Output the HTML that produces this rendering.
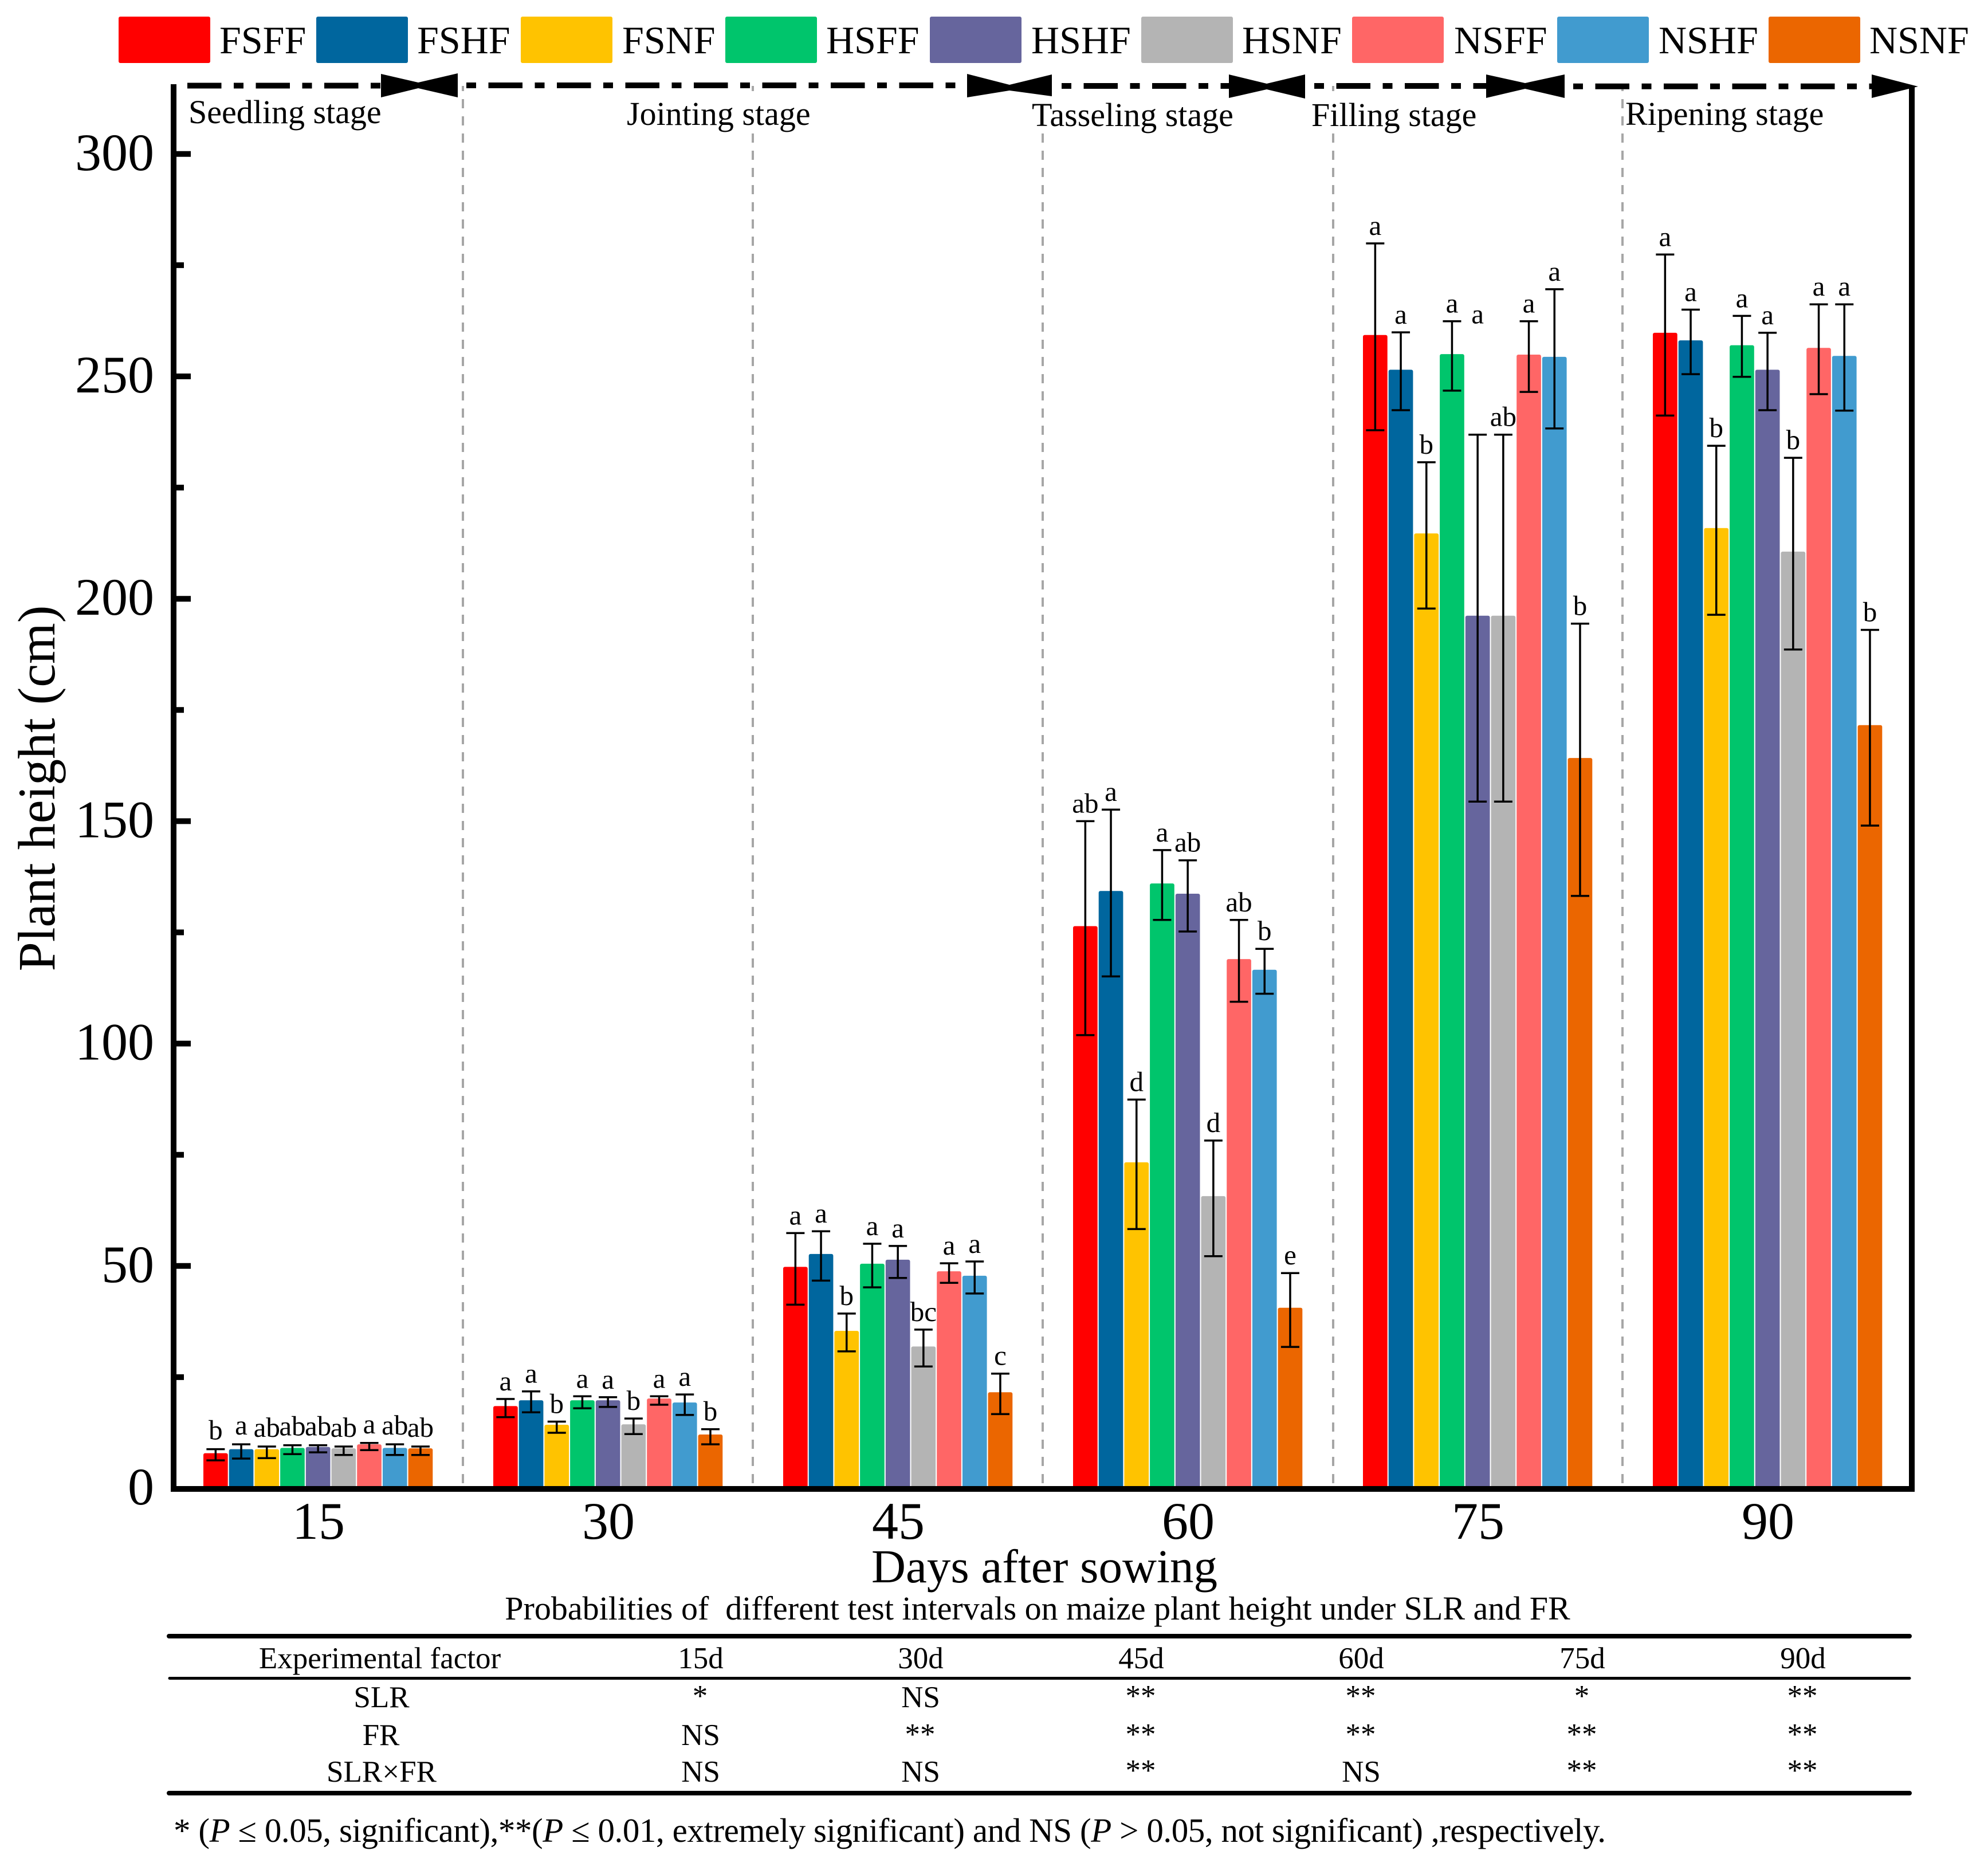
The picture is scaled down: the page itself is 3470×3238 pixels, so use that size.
<!DOCTYPE html>
<html lang="en">
<head>
<meta charset="utf-8">
<title>Plant height chart</title>
<style>
html,body{margin:0;padding:0;background:#fff;}
svg{display:block;}
text{font-family:"Liberation Serif","Times New Roman",serif;fill:#000;white-space:pre;}
.leg{font-size:68px;}
.stage{font-size:58px;}
.cell{font-size:53px;text-anchor:middle;}
</style>
</head>
<body>
<svg id="chart" xmlns="http://www.w3.org/2000/svg" width="3470" height="3238" viewBox="0 0 3470 3238">
  <rect x="0" y="0" width="3470" height="3238" fill="#ffffff"/>

  <g>
    <rect x="207" y="29" width="160" height="81" rx="3" fill="#FF0000"/>
    <text class="leg" x="383" y="93">FSFF</text>
    <rect x="552" y="29" width="160" height="81" rx="3" fill="#00669E"/>
    <text class="leg" x="728" y="93">FSHF</text>
    <rect x="909" y="29" width="160" height="81" rx="3" fill="#FFC300"/>
    <text class="leg" x="1086" y="93">FSNF</text>
    <rect x="1266" y="29" width="160" height="81" rx="3" fill="#00C56C"/>
    <text class="leg" x="1442" y="93">HSFF</text>
    <rect x="1623" y="29" width="160" height="81" rx="3" fill="#66659D"/>
    <text class="leg" x="1800" y="93">HSHF</text>
    <rect x="1992" y="29" width="160" height="81" rx="3" fill="#B4B4B4"/>
    <text class="leg" x="2168" y="93">HSNF</text>
    <rect x="2360" y="29" width="160" height="81" rx="3" fill="#FF6666"/>
    <text class="leg" x="2538" y="93">NSFF</text>
    <rect x="2718" y="29" width="160" height="81" rx="3" fill="#419BCF"/>
    <text class="leg" x="2895" y="93">NSHF</text>
    <rect x="3087" y="29" width="160" height="81" rx="3" fill="#EB6600"/>
    <text class="leg" x="3263" y="93">NSNF</text>
  </g>

  <g id="dividers" stroke="#a6a6a6" stroke-width="4" stroke-dasharray="16 14" stroke-dashoffset="7">
    <line x1="808" y1="150" x2="808" y2="2594"/>
    <line x1="1314" y1="150" x2="1314" y2="2594"/>
    <line x1="1820" y1="150" x2="1820" y2="2594"/>
    <line x1="2327" y1="150" x2="2327" y2="2594"/>
    <line x1="2832" y1="150" x2="2832" y2="2594"/>
  </g>

  <g>
    <rect x="1085" y="161" width="335" height="71" fill="#fff"/>
    <rect x="1795" y="161" width="370" height="71" fill="#fff"/>
    <rect x="2285" y="161" width="300" height="71" fill="#fff"/>
    <text class="stage" x="329" y="215">Seedling stage</text>
    <text class="stage" x="1094" y="218">Jointing stage</text>
    <text class="stage" x="1801" y="220">Tasseling stage</text>
    <text class="stage" x="2289" y="220">Filling stage</text>
    <text class="stage" x="2837" y="218">Ripening stage</text>
  </g>

  <g id="bars"></g>
  <g id="errors"></g>
  <g id="letters"></g>

  <g stroke="#000" stroke-width="10" fill="none">
    <line x1="303" y1="147" x2="303" y2="2604"/>
    <line x1="3337" y1="150" x2="3337" y2="2604"/>
    <line x1="298" y1="2599" x2="3342" y2="2599"/>
  </g>
  <g id="yticks"></g>
  <g id="xticks"></g>

  <g>
    <g fill="none" stroke="#000" stroke-width="10">
      <line x1="327" y1="149.5" x2="665" y2="149.5" stroke-dasharray="59.5 21.5 17 21.5"/>
      <line x1="814" y1="149" x2="1669" y2="149" stroke-dasharray="17 21.5 59.5 21.5"/>
      <line x1="1853" y1="150" x2="2147" y2="150" stroke-dasharray="17 21.5 59.5 21.5"/>
      <line x1="2294" y1="150" x2="2596" y2="150" stroke-dasharray="17 21.5 59.5 21.5"/>
      <line x1="2746" y1="150.7" x2="3270" y2="150.7" stroke-dasharray="17 21.5 59.5 21.5"/>
    </g>
    <polygon points="665,129 730,144 730,154 665,170"/>
    <polygon points="799,128 730,144 730,154 799,170"/>
    <polygon points="1688,129 1762,148 1762,158 1688,170"/>
    <polygon points="1836,130 1762,148 1762,158 1836,168"/>
    <polygon points="2145,130 2211,146 2211,156 2145,171"/>
    <polygon points="2278,130 2211,146 2211,156 2278,172"/>
    <polygon points="2594,130 2662,145 2662,155 2594,171"/>
    <polygon points="2731,130 2662,145 2662,155 2731,171"/>
    <polygon points="3267,130 3348,151 3267,171"/>
  </g>

  <text font-size="92" text-anchor="middle" transform="translate(95 1376) rotate(-90)">Plant height (cm)</text>
  <text font-size="83" text-anchor="middle" x="1823" y="2762">Days after sowing</text>

  <g>
    <text font-size="58" text-anchor="middle" x="1811" y="2827">Probabilities of  different test intervals on maize plant height under SLR and FR</text>
    <line x1="295" y1="2856" x2="3333" y2="2856" stroke="#000" stroke-width="8" stroke-linecap="round"/>
    <line x1="296" y1="2929.5" x2="3333" y2="2929.5" stroke="#000" stroke-width="5" stroke-linecap="round"/>
    <line x1="295" y1="3130" x2="3333" y2="3130" stroke="#000" stroke-width="8" stroke-linecap="round"/>

    <text class="cell" x="663" y="2912">Experimental factor</text>
    <text class="cell" x="1223" y="2912">15d</text>
    <text class="cell" x="1607" y="2912">30d</text>
    <text class="cell" x="1992" y="2912">45d</text>
    <text class="cell" x="2376" y="2912">60d</text>
    <text class="cell" x="2762" y="2912">75d</text>
    <text class="cell" x="3147" y="2912">90d</text>

    <text class="cell" x="666" y="2980">SLR</text>
    <text class="cell" x="1222" y="2978">*</text>
    <text class="cell" x="1607" y="2980">NS</text>
    <text class="cell" x="1991" y="2978">**</text>
    <text class="cell" x="2375" y="2978">**</text>
    <text class="cell" x="2761" y="2978">*</text>
    <text class="cell" x="3146" y="2978">**</text>

    <text class="cell" x="665" y="3046">FR</text>
    <text class="cell" x="1223" y="3046">NS</text>
    <text class="cell" x="1606" y="3045">**</text>
    <text class="cell" x="1991" y="3045">**</text>
    <text class="cell" x="2375" y="3045">**</text>
    <text class="cell" x="2761" y="3045">**</text>
    <text class="cell" x="3146" y="3045">**</text>

    <text class="cell" x="666" y="3110">SLR×FR</text>
    <text class="cell" x="1223" y="3110">NS</text>
    <text class="cell" x="1607" y="3110">NS</text>
    <text class="cell" x="1991" y="3108">**</text>
    <text class="cell" x="2376" y="3110">NS</text>
    <text class="cell" x="2761" y="3108">**</text>
    <text class="cell" x="3146" y="3108">**</text>
  </g>

  <text font-size="59" x="303" y="3215" textLength="2500">* (<tspan font-style="italic">P</tspan> ≤ 0.05, significant),**(<tspan font-style="italic">P</tspan> ≤ 0.01, extremely significant) and NS (<tspan font-style="italic">P</tspan> &gt; 0.05, not significant) ,respectively.</text>
</svg>

<script>
const days = ['15', '30', '45', '60', '75', '90'];
const treatments = ['FSFF', 'FSHF', 'FSNF', 'HSFF', 'HSHF', 'HSNF', 'NSFF', 'NSHF', 'NSNF'];
const treatmentColors = ['#FF0000', '#00669E', '#FFC300', '#00C56C', '#66659D', '#B4B4B4', '#FF6666', '#419BCF', '#EB6600'];

const yMajorTicks = [0, 50, 100, 150, 200, 250, 300];
const yMinorTicks = [25, 75, 125, 175, 225, 275];

const mean15 = [7.9, 8.8, 8.8, 9.1, 9.3, 9.0, 9.9, 9.1, 9.0];
const high15 = [8.8, 9.9, 9.4, 9.7, 9.7, 9.4, 10.2, 9.9, 9.4];
const low15 = [6.3, 6.7, 6.8, 7.7, 8.1, 7.5, 8.6, 7.5, 7.5];
const letters15 = ['b', 'a', 'ab', 'ab', 'ab', 'ab', 'a', 'ab', 'ab'];

const mean30 = [18.5, 19.8, 14.3, 19.8, 19.8, 14.4, 20.2, 19.3, 12.1];
const high30 = [20.1, 21.8, 15.0, 20.7, 20.5, 15.7, 20.7, 21.1, 13.3];
const low30 = [16.0, 17.1, 12.5, 18.0, 18.3, 12.2, 18.8, 16.5, 9.9];
const letters30 = ['a', 'a', 'b', 'a', 'a', 'b', 'a', 'a', 'b'];

const mean45 = [49.8, 52.7, 35.4, 50.5, 51.4, 31.9, 48.8, 47.8, 21.6];
const high45 = [57.4, 57.8, 39.3, 55.0, 54.5, 35.7, 50.6, 51.0, 25.8];
const low45 = [41.3, 46.7, 30.8, 45.2, 47.3, 27.4, 46.2, 43.8, 16.7];
const letters45 = ['a', 'a', 'b', 'a', 'a', 'bc', 'a', 'a', 'c'];

const mean60 = [126.4, 134.3, 73.3, 136.0, 133.7, 65.7, 119.0, 116.6, 40.6];
const high60 = [150.0, 152.6, 87.4, 143.5, 141.2, 78.2, 127.8, 121.3, 48.4];
const low60 = [101.9, 115.1, 58.3, 127.8, 125.2, 52.2, 109.4, 111.2, 31.8];
const letters60 = ['ab', 'a', 'd', 'a', 'ab', 'd', 'ab', 'b', 'e'];

const mean75 = [259.3, 251.5, 214.7, 255.0, 196.2, 196.2, 254.9, 254.4, 164.2];
const high75 = [279.9, 259.9, 230.7, 262.4, 236.9, 236.9, 262.4, 269.6, 194.4];
const low75 = [237.9, 242.4, 197.8, 246.8, 154.4, 154.4, 246.5, 238.3, 133.2];
const letters75 = ['a', 'a', 'b', 'a', 'a', 'ab', 'a', 'a', 'b'];

const mean90 = [259.8, 258.1, 215.9, 257.0, 251.5, 210.6, 256.4, 254.6, 171.6];
const high90 = [277.4, 265.0, 234.4, 263.6, 259.8, 231.7, 266.2, 266.2, 193.0];
const low90 = [241.2, 250.5, 196.4, 249.9, 242.4, 188.6, 246.0, 242.3, 149.0];
const letters90 = ['a', 'a', 'b', 'a', 'a', 'b', 'a', 'a', 'b'];

const meansByDay = [mean15, mean30, mean45, mean60, mean75, mean90];
const highsByDay = [high15, high30, high45, high60, high75, high90];
const lowsByDay = [low15, low30, low45, low60, low75, low90];
const lettersByDay = [letters15, letters30, letters45, letters60, letters75, letters90];

/* The HSHF letter at 75 d is printed well above its own error bar. */
const hshf75LetterValue = 260;

const SVG_NS = 'http://www.w3.org/2000/svg';

function yScale(value) {
  return 2598 - 7.764 * value;
}
function dayCenter(dayIndex) {
  return 556 + 506 * dayIndex;
}
function barLeft(dayIndex, seriesIndex) {
  return dayCenter(dayIndex) - 201 + 44.7 * seriesIndex;
}
function barCenter(dayIndex, seriesIndex) {
  return barLeft(dayIndex, seriesIndex) + 21.35;
}
function make(tag, attrs) {
  const node = document.createElementNS(SVG_NS, tag);
  Object.keys(attrs).forEach(function (key) {
    node.setAttribute(key, attrs[key]);
  });
  return node;
}

const barLayer = document.getElementById('bars');
const errorLayer = document.getElementById('errors');
const letterLayer = document.getElementById('letters');
const yTickLayer = document.getElementById('yticks');
const xTickLayer = document.getElementById('xticks');

days.forEach(function (day, d) {
  treatments.forEach(function (treatment, s) {
    const key = treatment.toLowerCase() + '-' + day;
    const mean = meansByDay[d][s];
    const high = highsByDay[d][s];
    const low = lowsByDay[d][s];

    const bar = make('rect', {
      x: barLeft(d, s),
      y: yScale(mean),
      width: 42.7,
      height: yScale(0) - yScale(mean),
      rx: 3,
      fill: treatmentColors[s]
    });
    
    
    barLayer.appendChild(bar);

    const cx = barCenter(d, s);
    const stem = make('line', { x1: cx, x2: cx, y1: yScale(high), y2: yScale(low), stroke: '#000', 'stroke-width': 3.5 });
    
    
    errorLayer.appendChild(stem);

    const capTop = make('line', { x1: cx - 16, x2: cx + 16, y1: yScale(high), y2: yScale(high), stroke: '#000', 'stroke-width': 3.5 });
    
    
    errorLayer.appendChild(capTop);

    const capBottom = make('line', { x1: cx - 16, x2: cx + 16, y1: yScale(low), y2: yScale(low), stroke: '#000', 'stroke-width': 3.5 });
    
    
    errorLayer.appendChild(capBottom);

    const anchorValue = (d === 4 && s === 4) ? hshf75LetterValue : high;
    const letterGap = d === 0 ? 17 : 15;
    const letter = make('text', { x: cx, y: yScale(anchorValue) - letterGap, 'font-size': 49, 'text-anchor': 'middle' });
    letter.textContent = lettersByDay[d][s];
    
    
    letterLayer.appendChild(letter);
  });

  const xLabel = make('text', { x: dayCenter(d), y: 2686, 'font-size': 92, 'text-anchor': 'middle' });
  xLabel.textContent = day;
  
  
  xTickLayer.appendChild(xLabel);
});

yMajorTicks.forEach(function (value) {
  if (value !== 0) {
    const tick = make('line', { x1: 303, x2: 333, y1: yScale(value), y2: yScale(value), stroke: '#000', 'stroke-width': 10 });
    
    
    yTickLayer.appendChild(tick);
  }

  const label = make('text', { x: 269, y: yScale(value) + 28, 'font-size': 92, 'text-anchor': 'end' });
  label.textContent = String(value);
  
  
  yTickLayer.appendChild(label);
});

yMinorTicks.forEach(function (value) {
  const tick = make('line', { x1: 303, x2: 321, y1: yScale(value), y2: yScale(value), stroke: '#000', 'stroke-width': 10 });
  
  
  yTickLayer.appendChild(tick);
});
</script>
</body>
</html>
